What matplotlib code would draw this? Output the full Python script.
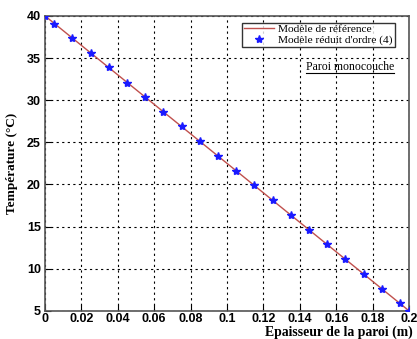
import matplotlib.pyplot as plt
from matplotlib.ticker import FixedLocator

# wall thickness (m) and temperatures (degC)
ref_x = [0.0, 0.2]
ref_T = [40.0, 5.0]
red_x = [0.0, 0.005, 0.015, 0.025, 0.035, 0.045, 0.055, 0.065, 0.075, 0.085, 0.095,
         0.105, 0.115, 0.125, 0.135, 0.145, 0.155, 0.165, 0.175, 0.185, 0.195, 0.2]
red_T = [40.0, 39.1, 37.4, 35.6, 33.9, 32.1, 30.4, 28.6, 26.9, 25.1, 23.4,
         21.6, 19.9, 18.1, 16.4, 14.6, 12.9, 11.1, 9.4, 7.6, 5.9, 5.0]
xticks = [0, 0.02, 0.04, 0.06, 0.08, 0.1, 0.12, 0.14, 0.16, 0.18, 0.2]
xticklabels = ['0', '0.02', '0.04', '0.06', '0.08', '0.1', '0.12', '0.14', '0.16', '0.18', '0.2']
yticks = [5, 10, 15, 20, 25, 30, 35, 40]

fig = plt.figure(figsize=(4.17, 3.39), dpi=100)
ax = fig.add_axes([0.108, 0.083, 0.873, 0.870])

ax.plot(ref_x, ref_T, color='#c0504d', lw=1.0, label='Modèle de référence', zorder=3)
ax.plot(red_x, red_T, ls='none', marker='*', ms=6, color='#1a1aff',
        label="Modèle réduit d'ordre (4)", zorder=4)

ax.set_xlim(0, 0.2)
ax.set_ylim(5, 40)
ax.xaxis.set_major_locator(FixedLocator(xticks))
ax.set_xticklabels(xticklabels)
ax.set_yticks(yticks)
ax.tick_params(direction='in', length=4, width=0.8, pad=3)
ax.tick_params(axis='x', pad=1.5)
for lab in ax.get_xticklabels() + ax.get_yticklabels():
    lab.set_family('Liberation Sans')
    lab.set_fontweight('bold')
    lab.set_fontsize(9)
ax.grid(True, color='black', ls=(0, (2, 3)), lw=0.8)
for s in ax.spines.values():
    s.set_color('#555555')
    s.set_linewidth(1.2)

ax.text(1.011, -0.072, 'Epaisseur de la paroi (m)', transform=ax.transAxes,
        ha='right', va='center', family='Liberation Serif', fontweight='bold', fontsize=9.9)
ax.set_ylabel('Température (°C)', family='Liberation Serif', fontweight='bold',
              fontsize=9.5, labelpad=6)

leg = ax.legend(loc='upper right', bbox_to_anchor=(0.96, 0.977),
                prop={'family': 'Liberation Serif', 'size': 8.2},
                frameon=True, fancybox=False, edgecolor='black',
                borderpad=0.15, handlelength=2.6, handletextpad=0.4, labelspacing=0.05,
                borderaxespad=0, numpoints=1)
leg.get_frame().set_linewidth(1.0)

ax.text(0.838, 0.826, 'Paroi monocouche', transform=ax.transAxes, ha='center', va='center',
        family='Liberation Serif', fontsize=8.5, zorder=5)
ax.plot([0.717, 0.959], [0.805, 0.805], transform=ax.transAxes, color='black', lw=0.8,
        clip_on=False, zorder=5)

fig.savefig('out.png', dpi=100)
